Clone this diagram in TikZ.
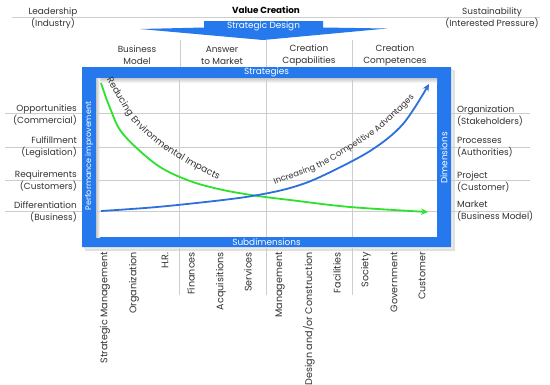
\documentclass[tikz,border=0pt]{standalone}
\usepackage{fontspec}
\setmainfont{Poppins}
\usetikzlibrary{arrows.meta,decorations.text}
\definecolor{frameblue}{RGB}{38,121,236}
\definecolor{curveblue}{RGB}{45,112,218}
\definecolor{curvegreen}{RGB}{45,226,45}
\definecolor{gridgray}{RGB}{205,205,205}
\definecolor{txt}{RGB}{50,50,50}
\begin{document}
\begin{tikzpicture}[x=1pt,y=-1pt,
  lbl/.style={font=\fontsize{8.9}{12}\selectfont, text=txt, inner sep=0pt},
  lblL/.style={lbl, align=right, anchor=east},
  lblR/.style={lbl, align=left, anchor=west},
  colhead/.style={lbl, align=center},
  bottomlbl/.style={lbl, font=\fontsize{9.6}{12}\selectfont, rotate=90, anchor=east},
  bartext/.style={font=\fontsize{8.9}{10}\selectfont, text=white, inner sep=0pt},
  grid/.style={gridgray, line width=0.5pt},
  curve/.style={line width=1.8pt, -{Stealth[length=7pt,width=6.5pt]}}
]
\useasboundingbox (0,0) rectangle (550,384);
\fill[white] (0,0) rectangle (550,384);

% header
\draw[grid] (12,17) -- (540,17);
\node[lbl, font=\fontsize{8.8}{10}\selectfont\bfseries, text=black] (vc) at (266,10) {Value Creation};
\node[colhead] (lead) at (53,18) {Leadership\\(Industry)};
\node[colhead] (sust) at (492,18) {Sustainability\\(Interested Pressure)};

% strategic design arrow
\fill[frameblue] (140,29) -- (204,27.5) -- (204,21) -- (323,21) -- (323,27.5) -- (387,28.5) -- (263,40) -- cycle;
\node[bartext] (sd) at (263.5,26.5) {Strategic Design};

% column headers
\node[colhead] (c1) at (137,55) {Business\\Model};
\node[colhead] (c2) at (222,55) {Answer\\to Market};
\node[colhead] (c3) at (309,55) {Creation\\Capabilities};
\node[colhead] (c4) at (395,55) {Creation\\Competences};
\foreach \x in {180,266,352} \draw[grid] (\x,40) -- (\x,67);

% shadow of frame
\fill[black!12] (85,70) rectangle (455,251);
\fill[black!8] (84,69) rectangle (453,249);

% frame
\fill[frameblue, even odd rule] (82,67) rectangle (451,247) (96,78) rectangle (437,237);
\fill[white] (96,78) rectangle (437,237);
\shade[top color=black!22, bottom color=white] (96,78) rectangle (437,83);
\shade[left color=black!22, right color=white] (96,78) rectangle (100,237);

% inner grid
\foreach \y in {113,147,180,211} \draw[grid] (96,\y) -- (437,\y);
\foreach \x in {179,266,352} \draw[grid] (\x,78) -- (\x,237);

% outer horizontal separators
\foreach \y in {113,147,180,211} {
  \draw[grid] (5,\y) -- (82,\y);
  \draw[grid] (451,\y) -- (530,\y);
}
% lower vertical separators
\foreach \x in {179,266,352} \draw[grid] (\x,248) -- (\x,295);

% bar texts
\node[bartext] (strat) at (266.5,72.5) {Strategies};
\node[bartext] (subd) at (266.5,242) {Subdimensions};
\node[bartext, font=\fontsize{8}{9}\selectfont, rotate=90] (perf) at (89,156) {Performance improvement};
\node[bartext, rotate=90] (dim) at (444,158) {Dimensions};

% left labels
\node[lblL] (l1) at (77,115) {Opportunities\\(Commercial)};
\node[lblL] (l2) at (77,147.5) {Fulfillment\\(Legislation)};
\node[lblL] (l3) at (77,181) {Requirements\\(Customers)};
\node[lblL] (l4) at (77,211.5) {Differentiation\\(Business)};

% right labels
\node[lblR] (r1) at (457,115.5) {Organization\\(Stakeholders)};
\node[lblR] (r2) at (457,147.5) {Processes\\(Authorities)};
\node[lblR] (r3) at (457,182) {Project\\(Customer)};
\node[lblR] (r4) at (457,211.5) {Market\\(Business Model)};

% bottom labels
\node[bottomlbl] (b1) at (105,252) {Strategic Management};
\node[bottomlbl] (b2) at (134,252) {Organization};
\node[bottomlbl] (b3) at (165,252) {H.R.};
\node[bottomlbl] (b4) at (191,252) {Finances};
\node[bottomlbl] (b5) at (221,252) {Acquisitions};
\node[bottomlbl] (b6) at (248,252) {Services};
\node[bottomlbl] (b7) at (280,252) {Management};
\node[bottomlbl] (b8) at (309,252) {Design and/or Construction};
\node[bottomlbl] (b9) at (337,252) {Facilities};
\node[bottomlbl] (b10) at (366,252) {Society};
\node[bottomlbl] (b11) at (394,252) {Government};
\node[bottomlbl] (b12) at (422,252) {Customer};

% curves
\draw[curvegreen, curve] plot[smooth, tension=0.55] coordinates {(101,83) (110,108) (123,134) (157,165) (190,181) (223,190) (258,196) (290,200) (350,207) (428,212)};
\draw[curveblue, curve] plot[smooth, tension=0.55] coordinates {(101,211) (157,207) (223,200) (258,195) (290,188) (320,177) (370,151) (403,124) (429,84)};

% curve labels (on invisible guide paths along the curves)
\path[decorate, decoration={text along path, raise=-2.8pt,
  text={|\fontsize{9.2}{10}\selectfont\color{txt}|Reducing Environmental Impacts}}]
  plot[smooth, tension=0.5] coordinates {(109,78) (122,100) (135,120) (160,143) (190,162) (225,180) (262,193) (300,201) (340,206)};
\path[decorate, decoration={text along path, raise=-2.6pt,
  text={|\fontsize{8.3}{9}\selectfont\color{txt}|Increasing the Competitive Advantages}}]
  plot[smooth, tension=0.5] coordinates {(274,182) (317,166) (337,155) (377,129) (413,95) (425,75) (435,55)};
\end{tikzpicture}
\end{document}
